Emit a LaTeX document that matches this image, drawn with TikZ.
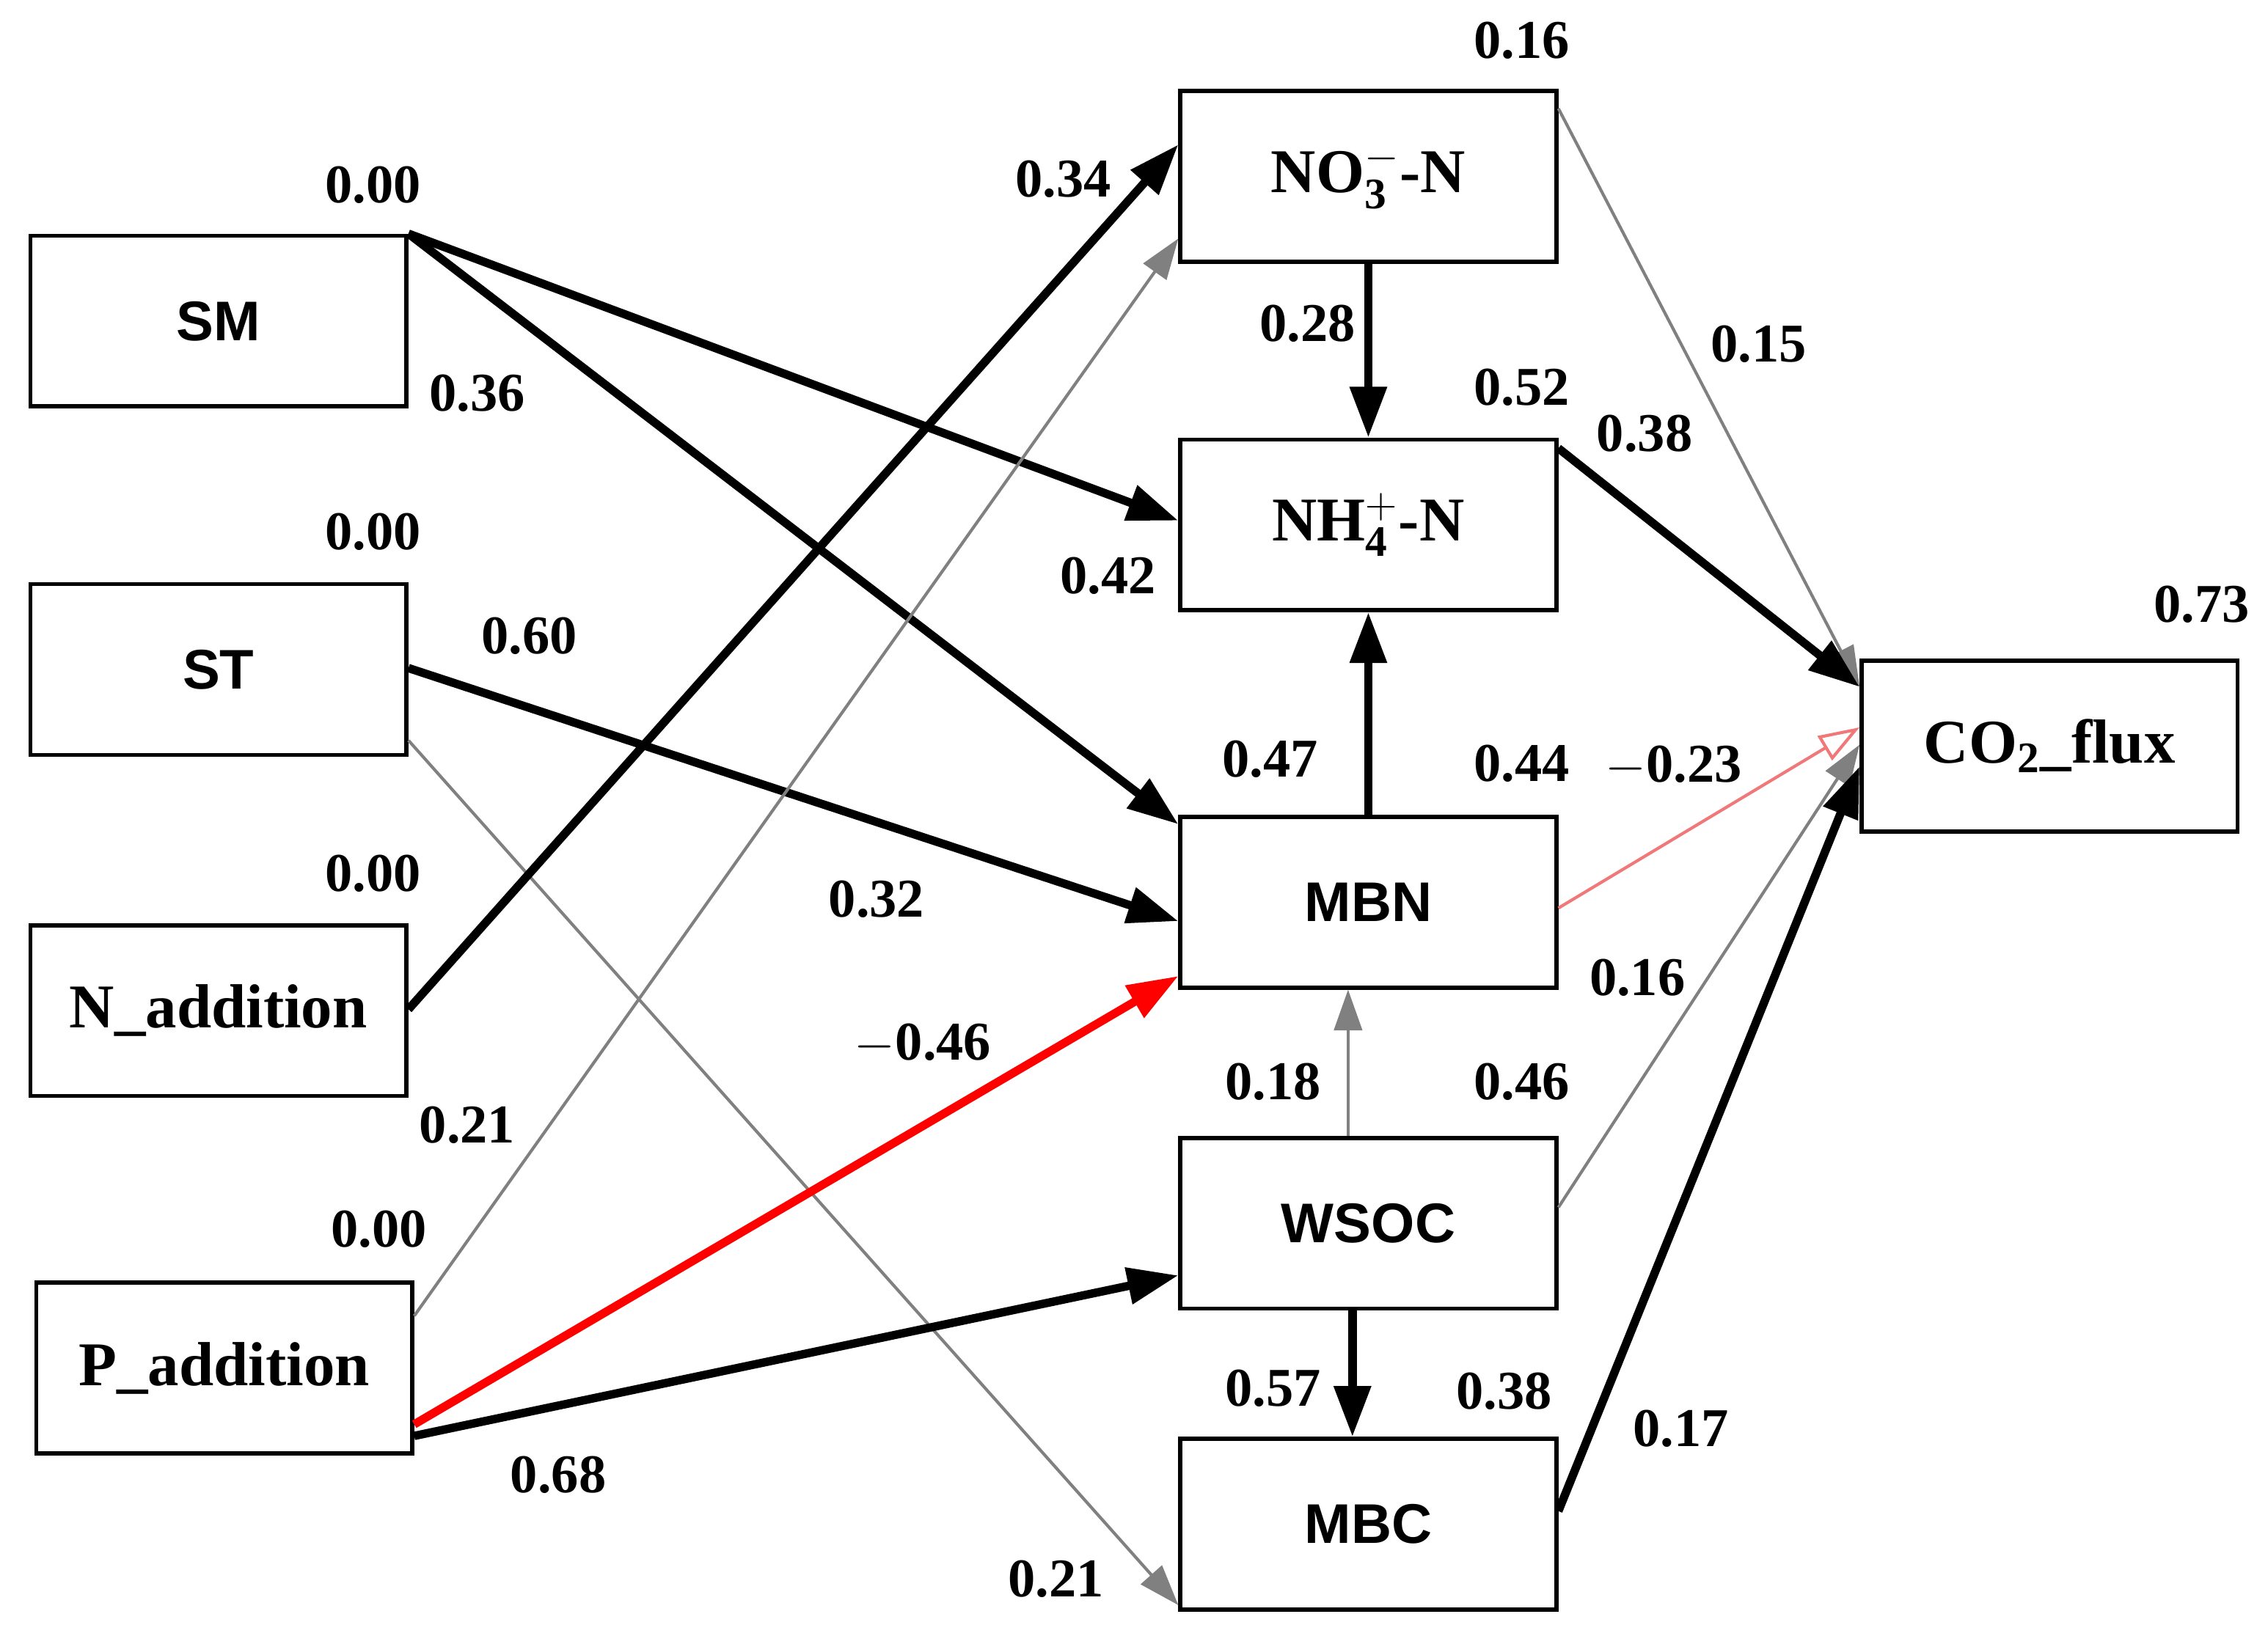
\documentclass[tikz,border=0pt]{standalone}
\usepackage{fontspec}
\setmainfont{Liberation Serif}
\setsansfont{Liberation Sans}
\usetikzlibrary{arrows.meta}
\begin{document}
\begin{tikzpicture}[x=0.02cm,y=-0.02cm,
  box/.style={draw,line width=1.6pt,minimum width=5.2cm,minimum height=2.36cm,inner sep=0pt},
  ss/.style={font=\fontsize{22}{25}\sffamily\bfseries},
  rm/.style={font=\fontsize{24.5}{27}\rmfamily\bfseries},
  num/.style={font=\fontsize{21.5}{24}\rmfamily\bfseries},
  thick arr/.style={line width=3.3pt,-{Triangle[length=20pt,width=14pt]}},
  gray arr/.style={draw=gray,line width=1.2pt,-{Triangle[length=16pt,width=11pt,fill=gray]}}]
\useasboundingbox (0,0) rectangle (1568,1131);
\node[box,ss] (SM) at (151,222) {SM};
\node[box,ss] (ST) at (151,463) {ST};
\node[box,rm] (N) at (151,699) {N\_addition};
\node[box,rm] (P) at (155,946) {P\_addition};
\node[box,rm] (NO3) at (946,122) {NO$_{\mathbf{3}}^{\mathbf{-}}$-N};
\node[box,rm] (NH4) at (946,363) {NH$_{\mathbf{4}}^{\mathbf{+}}$-N};
\node[box,ss] (MBN) at (946,624) {MBN};
\node[box,ss] (WSOC) at (946,846) {WSOC};
\node[box,ss] (MBC) at (946,1054) {MBC};
\node[box,rm] (CO2) at (1417,516) {CO$_{\mathbf{2}}$\_flux};
% connectors
\draw[thick arr] (SM.north east) -- (NH4.west |- 0,360);
\draw[thick arr] (SM.north east) -- (MBN.west |- 0,570);
\draw[thick arr] (ST.east |- 0,462) -- (MBN.west |- 0,637);
\draw[gray arr] (ST.east |- 0,512) -- (MBC.west |- 0,1110);
\draw[thick arr] (N.east |- 0,698) -- (NO3.west |- 0,100);
\draw[gray arr] (P.east |- 0,910) -- (NO3.west |- 0,165);
\draw[thick arr,draw=red,-{Triangle[length=20pt,width=14pt,fill=red]}] (P.east |- 0,985) -- (MBN.west |- 0,675);
\draw[thick arr] (P.east |- 0,993) -- (WSOC.west |- 0,882);
\draw[thick arr] (NO3.south) -- (NH4.north);
\draw[thick arr] (MBN.north) -- (NH4.south);
\draw[gray arr] (WSOC.north -| 932,0) -- (MBN.south -| 932,0);
\draw[thick arr] (WSOC.south -| 935,0) -- (MBC.north -| 935,0);
\draw[gray arr] (NO3.east |- 0,75) -- (CO2.west |- 0,475);
\draw[thick arr] (NH4.east |- 0,310) -- (CO2.west |- 0,475);
\draw[draw={rgb,255:red,240;green,120;blue,120},line width=1.2pt,-{Triangle[open,length=16pt,width=11pt]}] (MBN.east |- 0,628) -- (CO2.west |- 0,503);
\draw[gray arr] (WSOC.east |- 0,835) -- (CO2.west |- 0,515);
\draw[thick arr] (MBC.east |- 0,1045) -- (CO2.west |- 0,530);
% labels
\foreach \p/\t in {(258,128)/0.00,(330,272)/0.36,(258,368)/0.00,(366,440)/0.60,(258,604)/0.00,(323,778)/0.21,(262,850)/0.00,(386,1020)/0.68,(735,124)/0.34,(1052,28)/0.16,(904,224)/0.28,(1216,238)/0.15,(1052,268)/0.52,(1137,300)/0.38,(766,398)/0.42,(1522,418)/0.73,(878,525)/0.47,(1052,528)/0.44,(1157,530)/$-$0.23,(606,622)/0.32,(1132,676)/0.16,(638,722)/$-$0.46,(880,748)/0.18,(1052,748)/0.46,(880,960)/0.57,(1040,962)/0.38,(1162,988)/0.17,(730,1092)/0.21}
  \node[num] at \p {\t};
\end{tikzpicture}
\end{document}
